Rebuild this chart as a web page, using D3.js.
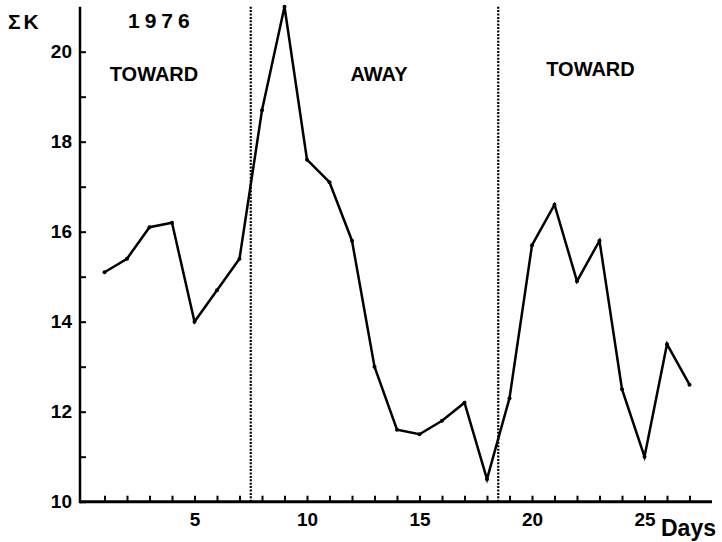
<!DOCTYPE html>
<html>
<head>
<meta charset="utf-8">
<script src="https://cdn.jsdelivr.net/npm/d3@7"></script>
<style>
  body { margin: 0; background: #fff; }
  svg text { font-family: "Liberation Sans", Arial, sans-serif; font-weight: bold; fill: #000; }
</style>
</head>
<body>
<svg id="chart" width="722" height="542"></svg>
<script>
// waarden
const days = d3.range(1, 28)
const sumK = [15.1, 15.4, 16.1, 16.2, 14.0, 14.7, 15.4, 18.7, 21.0, 17.6,
              17.1, 15.8, 13.0, 11.6, 11.5, 11.8, 12.2, 10.5, 12.3, 15.7,
              16.6, 14.9, 15.8, 12.5, 11.0, 13.5, 12.6]
const xTicks = [5, 10, 15, 20, 25]
const yTicks = [10, 12, 14, 16, 18, 20]
const switches = [7.5, 18.5]
const phases = [
  { label: "TOWARD", day: 3.2, value: 19.35 },
  { label: "AWAY", day: 13.2, value: 19.35 },
  { label: "TOWARD", day: 22.6, value: 19.45 }
]

const svg = d3.select("#chart")

const xScale = d3.scaleLinear().domain([0, 28]).range([82, 712])
const yScale = d3.scaleLinear().domain([10, 21]).range([501.7, 6.7])

// X as met kleine streepjes per dag
const axisBottom = d3.axisBottom(xScale)
  .tickValues(days)
  .tickSize(-6)
  .tickPadding(11)
  .tickFormat(d => xTicks.includes(d) ? d : "")

const gx = svg.append("g")
  .attr("transform", "translate(0," + yScale(10) + ")")
  .call(axisBottom)
gx.select(".domain").remove()
gx.append("line")
  .attr("x1", 80).attr("x2", xScale(28))
  .attr("stroke", "#000").attr("stroke-width", 3)
gx.selectAll(".tick line").attr("stroke-width", 2)
gx.selectAll(".tick text").attr("font-size", "19px")

// Y as
const axisLeft = d3.axisLeft(yScale)
  .tickValues(d3.range(10, 21))
  .tickSize(-6)
  .tickPadding(8)
  .tickFormat(d => yTicks.includes(d) ? d : "")

const gy = svg.append("g")
  .attr("transform", "translate(80,0)")
  .call(axisLeft)
gy.select(".domain").remove()
gy.append("line")
  .attr("y1", yScale(10) + 1.5).attr("y2", yScale(21))
  .attr("stroke", "#000").attr("stroke-width", 2.5)
gy.selectAll(".tick line").attr("stroke-width", 2)
gy.selectAll(".tick text").attr("font-size", "19px")

// stippellijnen bij de wissel
svg.append("g")
  .selectAll("line")
  .data(switches)
  .join("line")
  .attr("x1", d => xScale(d))
  .attr("x2", d => xScale(d))
  .attr("y1", yScale(21))
  .attr("y2", yScale(10))
  .attr("stroke", "#000")
  .attr("stroke-width", 2.2)
  .attr("stroke-dasharray", "2,1.4")

// de lijn
const line = d3.line()
  .x((d, i) => xScale(days[i]))
  .y(d => yScale(d))

svg.append("path")
  .datum(sumK)
  .attr("d", line)
  .attr("fill", "none")
  .attr("stroke", "#000")
  .attr("stroke-width", 2.5)
  .attr("stroke-linejoin", "miter")

svg.append("g")
  .selectAll("circle")
  .data(sumK)
  .join("circle")
  .attr("cx", (d, i) => xScale(days[i]))
  .attr("cy", d => yScale(d))
  .attr("r", 2)
  .attr("fill", "#000")

// teksten
svg.append("g")
  .selectAll("text")
  .data(phases)
  .join("text")
  .attr("x", d => xScale(d.day))
  .attr("y", d => yScale(d.value))
  .attr("text-anchor", "middle")
  .attr("font-size", "20px")
  .text(d => d.label)

svg.append("text")
  .attr("x", 8).attr("y", 29)
  .attr("font-size", "21px")
  .attr("letter-spacing", "3px")
  .text("ΣK")

svg.append("text")
  .attr("x", 128).attr("y", 28)
  .attr("font-size", "21px")
  .attr("letter-spacing", "5px")
  .text("1976")

svg.append("text")
  .attr("x", 661).attr("y", 536)
  .attr("font-size", "23px")
  .text("Days")
</script>
</body>
</html>
